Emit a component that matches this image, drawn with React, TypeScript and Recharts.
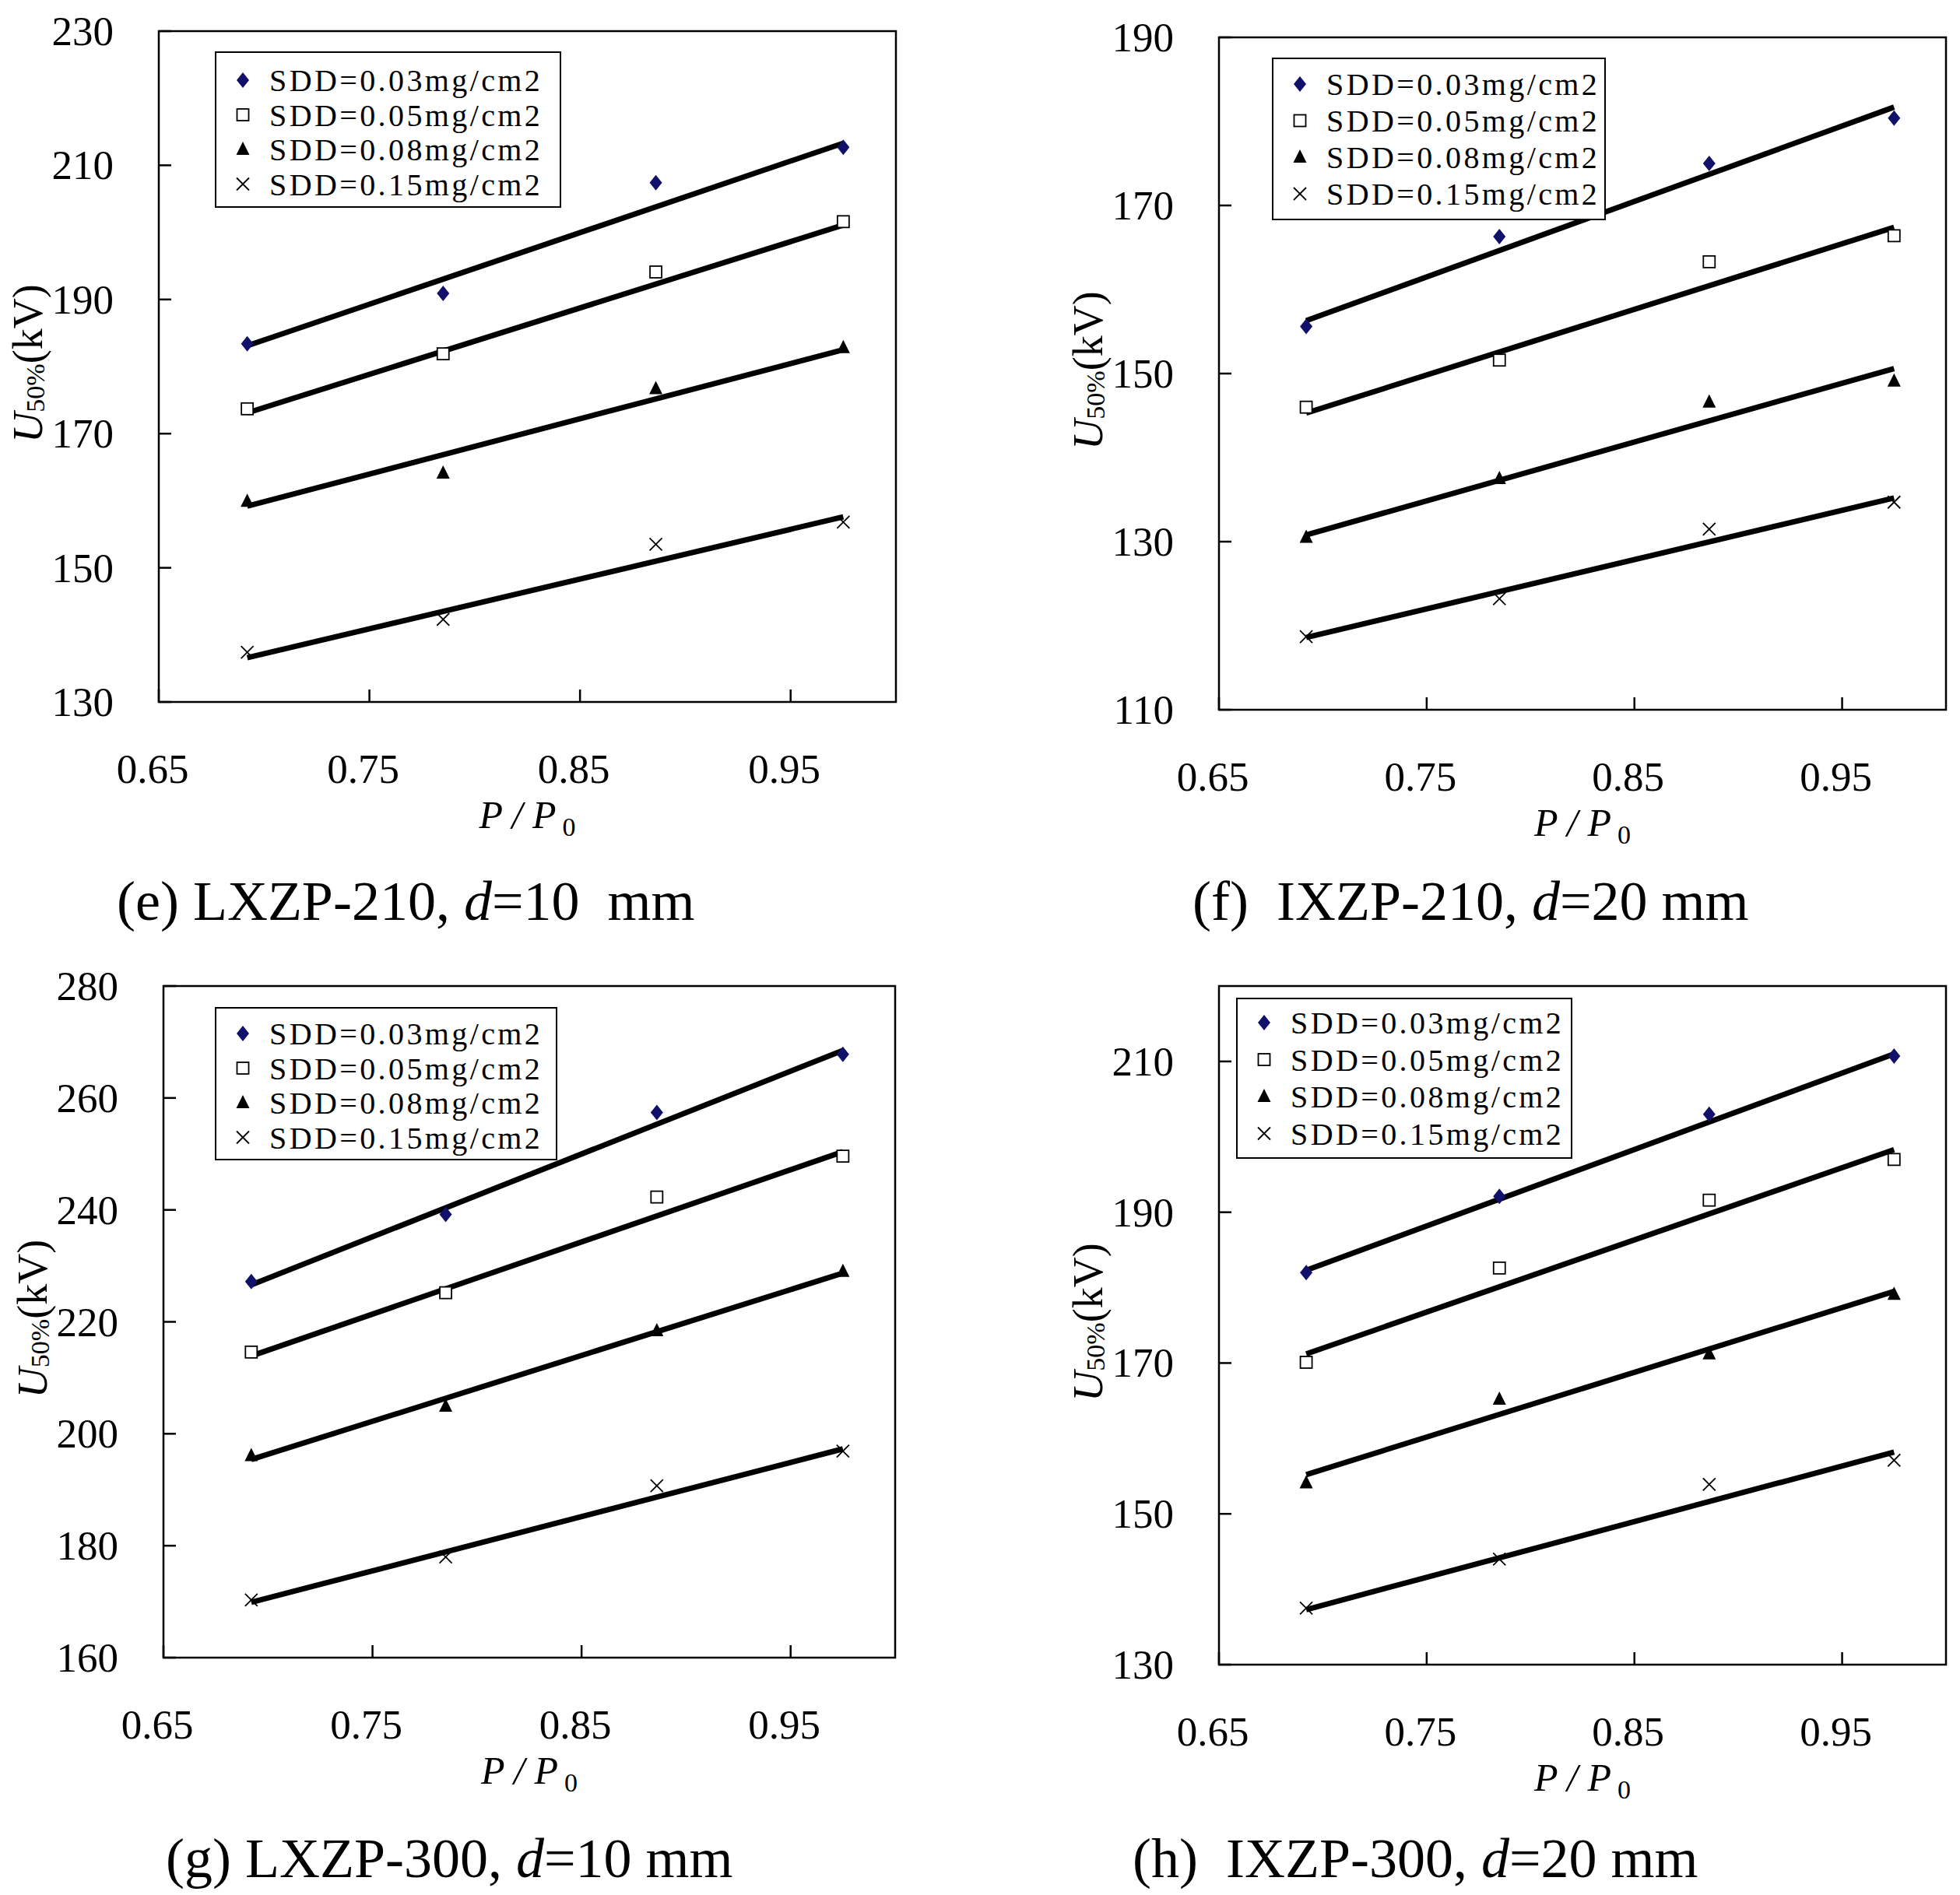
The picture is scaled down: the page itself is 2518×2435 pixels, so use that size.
import React from "react";
import { ScatterChart, Scatter, XAxis, YAxis, ReferenceArea } from "recharts";

// pressure ratio P/P0 of the four test points (same for every panel)
const pressureRatio = [0.692, 0.785, 0.886, 0.975];
// the trend lines run from the first to the last test point
const fitRatio = [0.692, 0.975];
const xTicks = [0.65, 0.75, 0.85, 0.95];

const sddLabels = ["SDD=0.03mg/cm2", "SDD=0.05mg/cm2", "SDD=0.08mg/cm2", "SDD=0.15mg/cm2"];

// (e) LXZP-210, d=10 mm
const e03 = [183.4, 190.9, 207.4, 212.7];
const e05 = [173.7, 181.9, 194.1, 201.6];
const e08 = [159.9, 164.1, 176.7, 182.8];
const e15 = [137.4, 142.3, 153.5, 156.8];
const eFit03 = [183.1, 213.3];
const eFit05 = [173.1, 201.1];
const eFit08 = [159.2, 182.5];
const eFit15 = [136.6, 157.6];
const eTicks = [130, 150, 170, 190, 210, 230];

// (f) IXZP-210, d=20 mm
const f03 = [155.6, 166.3, 175.0, 180.4];
const f05 = [146.0, 151.6, 163.3, 166.4];
const f08 = [130.5, 137.5, 146.6, 149.1];
const f15 = [118.7, 123.2, 131.5, 134.7];
const fFit03 = [156.3, 181.7];
const fFit05 = [145.3, 167.4];
const fFit08 = [130.8, 150.6];
const fFit15 = [118.6, 135.2];
const fTicks = [110, 130, 150, 170, 190];

// (g) LXZP-300, d=10 mm
const g03 = [227.2, 239.2, 257.4, 267.8];
const g05 = [214.6, 225.2, 242.3, 249.6];
const g08 = [196.1, 204.9, 218.4, 229.0];
const g15 = [170.3, 178.0, 190.7, 196.9];
const gFit03 = [226.6, 268.5];
const gFit05 = [213.9, 250.4];
const gFit08 = [195.4, 228.7];
const gFit15 = [169.9, 197.3];
const gTicks = [160, 180, 200, 220, 240, 260, 280];

// (h) IXZP-300, d=20 mm
const h03 = [182.0, 192.1, 203.0, 210.7];
const h05 = [170.1, 182.6, 191.6, 197.0];
const h08 = [154.1, 165.2, 171.2, 179.1];
const h15 = [137.5, 144.0, 153.9, 157.1];
const hFit03 = [182.3, 211.0];
const hFit05 = [171.2, 198.3];
const hFit08 = [155.2, 179.5];
const hFit15 = [137.3, 158.2];
const hTicks = [130, 150, 170, 190, 210];

const FONT = "'Liberation Serif', 'Times New Roman', serif";
const AXIS_W = 204;
const TOP = 40;
const XAXIS_H = 200;

const toPoints = (xs: number[], ys: number[]) => xs.map((x, i) => ({ x, y: ys[i] }));

const Diamond = ({ cx, cy }: any) => (
  <polygon points={`${cx},${cy - 10} ${cx + 8},${cy} ${cx},${cy + 10} ${cx - 8},${cy}`} fill="#11116b" />
);
const Square = ({ cx, cy }: any) => (
  <rect x={cx - 7.5} y={cy - 7.5} width={15} height={15} fill="#fff" stroke="#000" strokeWidth={1.8} />
);
const Triangle = ({ cx, cy }: any) => (
  <polygon points={`${cx},${cy - 10} ${cx + 8.5},${cy + 7} ${cx - 8.5},${cy + 7}`} fill="#000" />
);
const Cross = ({ cx, cy }: any) => (
  <g stroke="#000" strokeWidth={1.8}>
    <line x1={cx - 8} y1={cy - 8} x2={cx + 8} y2={cy + 8} />
    <line x1={cx - 8} y1={cy + 8} x2={cx + 8} y2={cy - 8} />
  </g>
);
const NoMark = () => <g />;
const markers = [Diamond, Square, Triangle, Cross];

const YTick = ({ x, y, payload }: any) => (
  <g>
    <line x1={x} x2={x + 16} y1={y} y2={y} stroke="#000" strokeWidth={2.5} />
    <text x={x - 58} y={y + 18} textAnchor="end" fontFamily={FONT} fontSize={53} fill="#000">
      {payload.value}
    </text>
  </g>
);

const XTick = ({ x, y, payload }: any) => (
  <g>
    <line x1={x} x2={x} y1={y} y2={y - 16} stroke="#000" strokeWidth={2.5} />
    <text x={x - 8} y={y + 104} textAnchor="middle" fontFamily={FONT} fontSize={53} fill="#000">
      {payload.value.toFixed(2)}
    </text>
  </g>
);

const XTitle = ({ viewBox }: any) => (
  <text
    x={viewBox.x + viewBox.width / 2}
    y={viewBox.y + 162}
    textAnchor="middle"
    fontFamily={FONT}
    fontSize={50}
    fill="#000"
  >
    <tspan fontStyle="italic">P / P</tspan>
    <tspan fontSize={34} dx={8} dy={10}>0</tspan>
  </text>
);

const YTitle = ({ viewBox }: any) => {
  const cx = viewBox.x + 54;
  const cy = viewBox.y + viewBox.height / 2 - 4;
  return (
    <text
      transform={`translate(${cx},${cy}) rotate(-90)`}
      textAnchor="middle"
      fontFamily={FONT}
      fontSize={54}
      fill="#000"
    >
      <tspan fontStyle="italic">U</tspan>
      <tspan fontSize={34} dy={3}>50%</tspan>
      <tspan dy={-3}>(kV)</tspan>
    </text>
  );
};

function LegendBox({ left, top, width, height, first, gap }: any) {
  return (
    <svg
      width={width}
      height={height}
      style={{ position: "absolute", left, top, overflow: "visible" }}
    >
      <rect x={1} y={1} width={width - 2} height={height - 2} fill="#fff" stroke="#000" strokeWidth={2} />
      {sddLabels.map((label, i) => {
        const Mark = markers[i];
        const cy = first + i * gap;
        return (
          <g key={label}>
            <Mark cx={36} cy={cy} />
            <text x={70} y={cy + 14} fontFamily={FONT} fontSize={40} letterSpacing={3.4} fill="#000">
              {label}
            </text>
          </g>
        );
      })}
    </svg>
  );
}

function Panel({ plot, yDomain, yTicks, series, fits, legend, caption }: any) {
  const width = plot.r - plot.l + AXIS_W + 10;
  const height = plot.b - plot.t + TOP + XAXIS_H;
  return (
    <>
      <div style={{ position: "absolute", left: plot.l - AXIS_W, top: plot.t - TOP }}>
        <ScatterChart
          width={width}
          height={height}
          margin={{ top: TOP, right: 10, bottom: 0, left: 0 }}
        >
          <XAxis
            type="number"
            dataKey="x"
            domain={[0.65, 1.0]}
            ticks={xTicks}
            allowDataOverflow
            axisLine={false}
            tickLine={false}
            tickSize={0}
            tickMargin={0}
            height={XAXIS_H}
            tick={<XTick />}
            label={<XTitle />}
          />
          <YAxis
            type="number"
            dataKey="y"
            domain={yDomain}
            ticks={yTicks}
            allowDataOverflow
            axisLine={false}
            tickLine={false}
            tickSize={0}
            tickMargin={0}
            width={AXIS_W}
            tick={<YTick />}
            label={<YTitle />}
          />
          <ReferenceArea
            x1={0.65}
            x2={1.0}
            y1={yDomain[0]}
            y2={yDomain[1]}
            fill="none"
            stroke="#000"
            strokeWidth={2.5}
            fillOpacity={0}
          />
          {fits.map((f: number[], i: number) => (
            <Scatter
              key={`fit${i}`}
              data={toPoints(fitRatio, f)}
              line={{ stroke: "#000", strokeWidth: 7 }}
              shape={NoMark}
              isAnimationActive={false}
            />
          ))}
          {series.map((s: number[], i: number) => (
            <Scatter
              key={`pts${i}`}
              name={sddLabels[i]}
              data={toPoints(pressureRatio, s)}
              shape={markers[i]}
              isAnimationActive={false}
            />
          ))}
        </ScatterChart>
      </div>
      <LegendBox {...legend} />
      <div
        style={{
          position: "absolute",
          left: caption.left,
          top: caption.baseline - 60,
          fontFamily: FONT,
          fontSize: 72,
          lineHeight: 1,
          whiteSpace: "pre",
          color: "#000",
        }}
      >
        {caption.before}
        <i>d</i>
        {caption.after}
      </div>
    </>
  );
}

export default function App() {
  return (
    <div style={{ position: "relative", width: 2518, height: 2435, background: "#fff", overflow: "hidden" }}>
      <style>{"body{margin:0}"}</style>
      <Panel
        plot={{ l: 204, r: 1151, t: 40, b: 902 }}
        yDomain={[130, 230]}
        yTicks={eTicks}
        series={[e03, e05, e08, e15]}
        fits={[eFit03, eFit05, eFit08, eFit15]}
        legend={{ left: 276, top: 66, width: 445, height: 201, first: 37, gap: 44.5 }}
        caption={{ left: 150, baseline: 1182, before: "(e) LXZP-210, ", after: "=10  mm" }}
      />
      <Panel
        plot={{ l: 1566, r: 2500, t: 48, b: 912 }}
        yDomain={[110, 190]}
        yTicks={fTicks}
        series={[f03, f05, f08, f15]}
        fits={[fFit03, fFit05, fFit08, fFit15]}
        legend={{ left: 1634, top: 74, width: 429, height: 209, first: 34, gap: 47 }}
        caption={{ left: 1532, baseline: 1182, before: "(f)  IXZP-210, ", after: "=20 mm" }}
      />
      <Panel
        plot={{ l: 210, r: 1150, t: 1267, b: 2130 }}
        yDomain={[160, 280]}
        yTicks={gTicks}
        series={[g03, g05, g08, g15]}
        fits={[gFit03, gFit05, gFit08, gFit15]}
        legend={{ left: 276, top: 1294, width: 440, height: 197, first: 34, gap: 44.5 }}
        caption={{ left: 213, baseline: 2412, before: "(g) LXZP-300, ", after: "=10 mm" }}
      />
      <Panel
        plot={{ l: 1566, r: 2500, t: 1267, b: 2139 }}
        yDomain={[130, 220]}
        yTicks={hTicks}
        series={[h03, h05, h08, h15]}
        fits={[hFit03, hFit05, hFit08, hFit15]}
        legend={{ left: 1588, top: 1282, width: 432, height: 207, first: 32, gap: 47.5 }}
        caption={{ left: 1455, baseline: 2412, before: "(h)  IXZP-300, ", after: "=20 mm" }}
      />
    </div>
  );
}
